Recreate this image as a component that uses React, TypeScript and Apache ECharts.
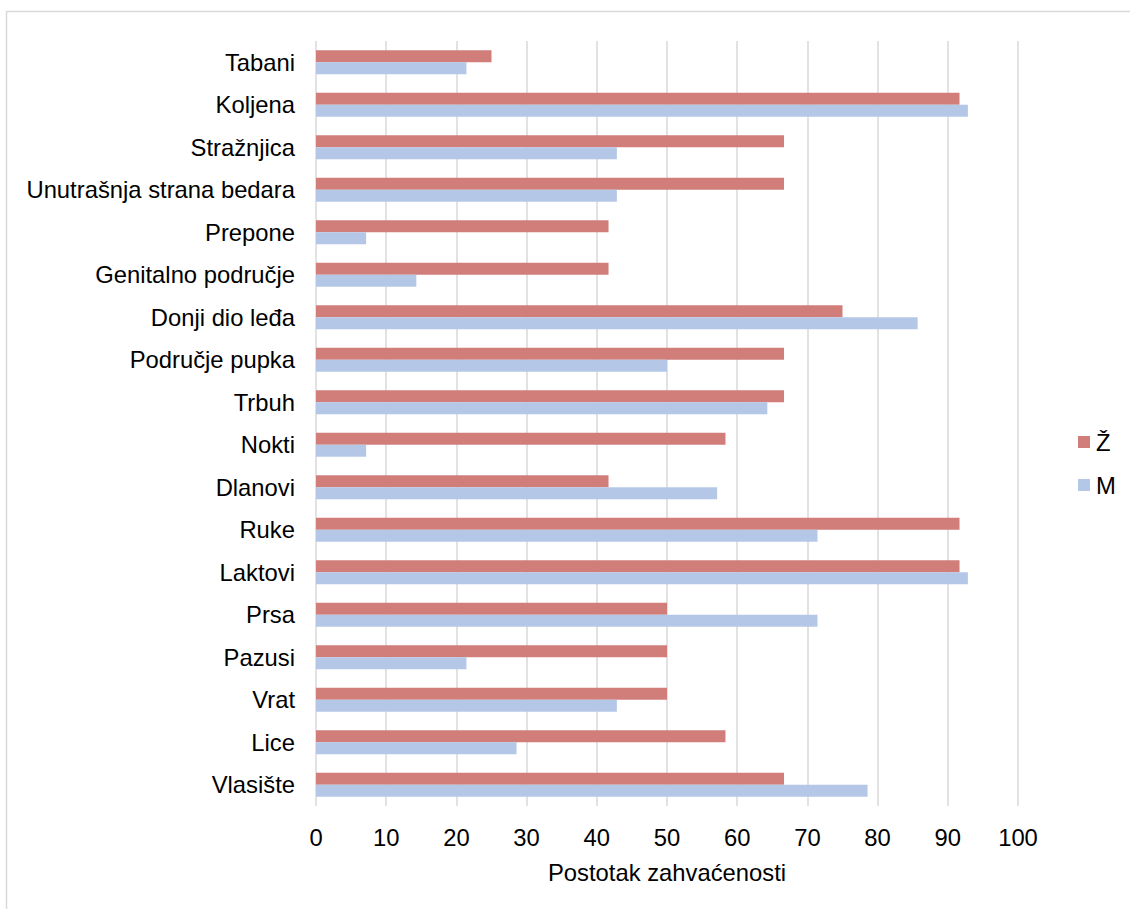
import React, { useEffect, useRef } from "react";
import * as echarts from "echarts";

const categories = [
  "Tabani",
  "Koljena",
  "Stražnjica",
  "Unutrašnja strana bedara",
  "Prepone",
  "Genitalno područje",
  "Donji dio leđa",
  "Područje pupka",
  "Trbuh",
  "Nokti",
  "Dlanovi",
  "Ruke",
  "Laktovi",
  "Prsa",
  "Pazusi",
  "Vrat",
  "Lice",
  "Vlasište",
];

const zValues = [25, 91.67, 66.67, 66.67, 41.67, 41.67, 75, 66.67, 66.67, 58.33, 41.67, 91.67, 91.67, 50, 50, 50, 58.33, 66.67];
const mValues = [21.43, 92.86, 42.86, 42.86, 7.14, 14.29, 85.71, 50, 64.29, 7.14, 57.14, 71.43, 92.86, 71.43, 21.43, 42.86, 28.57, 78.57];

const xTicks = [0, 10, 20, 30, 40, 50, 60, 70, 80, 90, 100];

const FONT = "'Liberation Sans', Arial, sans-serif";
const FS = 23.8;

export default function App() {
  const ref = useRef<HTMLDivElement>(null);
  useEffect(() => {
    if (!ref.current) return;
    const chart = echarts.init(ref.current, null, { renderer: "svg" });
    chart.setOption({
      animation: false,
      backgroundColor: "#ffffff",
      textStyle: { fontFamily: FONT },
      graphic: [
        {
          type: "rect",
          shape: { x: 6.5, y: 11.5, width: 1300, height: 1000 },
          style: { fill: "none", stroke: "#d9d9d9", lineWidth: 1.5 },
          silent: true,
        },
      ],
      grid: { left: 316, right: 112, top: 41, bottom: 103, containLabel: false },
      legend: {
        orient: "vertical",
        left: 1073,
        top: 425,
        itemWidth: 12,
        itemHeight: 12,
        itemGap: 19,
        icon: "rect",
        textStyle: { fontFamily: FONT, fontSize: FS, color: "#000", padding: [0, 0, 0, 1] },
        data: ["Ž", "M"],
      },
      xAxis: {
        type: "value",
        min: xTicks[0],
        max: xTicks[xTicks.length - 1],
        interval: 10,
        name: "Postotak zahvaćenosti",
        nameLocation: "middle",
        nameGap: 54,
        nameTextStyle: { fontFamily: FONT, fontSize: FS, color: "#000" },
        axisLine: { show: false },
        axisTick: { show: false },
        axisLabel: { fontFamily: FONT, fontSize: FS, color: "#000", margin: 19 },
        splitLine: { show: true, lineStyle: { color: "#d9d9d9", width: 1.5 } },
      },
      yAxis: {
        type: "category",
        inverse: true,
        data: categories,
        axisLine: { show: false },
        axisTick: { show: false },
        axisLabel: { fontFamily: FONT, fontSize: FS, color: "#000", margin: 21 },
        splitLine: { show: false },
      },
      series: [
        {
          name: "Ž",
          type: "bar",
          data: zValues,
          barWidth: 12,
          barGap: "0%",
          itemStyle: { color: "#d17e7b" },
        },
        {
          name: "M",
          type: "bar",
          data: mValues,
          barWidth: 12,
          barGap: "0%",
          itemStyle: { color: "#b4c7e7" },
        },
      ],
    });
    return () => chart.dispose();
  }, []);
  return (
    <div
      ref={ref}
      style={{ position: "absolute", left: 0, top: 0, width: 1130, height: 909 }}
    />
  );
}
